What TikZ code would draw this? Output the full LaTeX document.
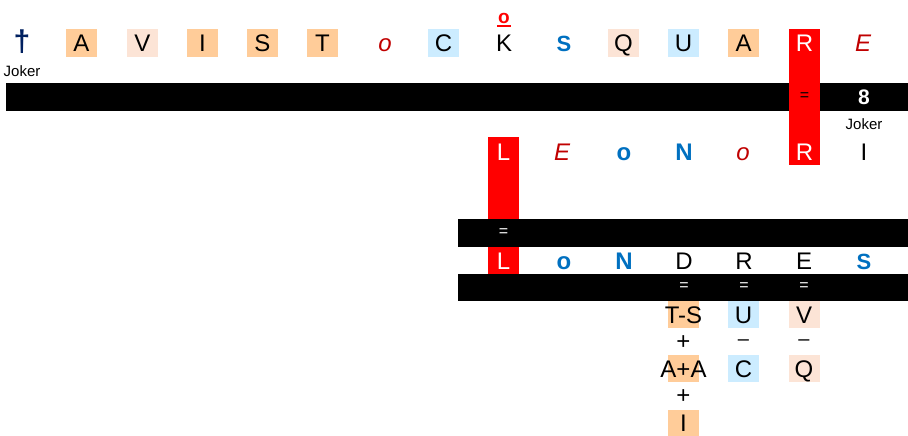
\documentclass[tikz,border=0pt]{standalone}
\usepackage{fontspec}
\setmainfont{Liberation Sans}
\definecolor{peach}{HTML}{FFCC99}
\definecolor{pinkish}{HTML}{FCE4D6}
\definecolor{skyish}{HTML}{CCECFF}
\definecolor{darkred}{HTML}{C00000}
\definecolor{blueletter}{HTML}{0070C0}
\definecolor{navyish}{HTML}{002060}
\begin{document}
\begin{tikzpicture}[x=1pt,y=-1pt,
  letter/.style={inner sep=0pt, minimum width=31pt, minimum height=27.5pt,
    text height=17pt, text depth=0pt, font=\fontsize{24}{24}\selectfont},
  bluebold/.style={letter, text=blueletter, font=\fontsize{24}{24}\selectfont\bfseries},
  bluebigS/.style={letter, text=blueletter, font=\fontsize{22}{22}\selectfont\bfseries},
  reditalic/.style={letter, text=darkred, font=\fontsize{24}{24}\selectfont\itshape},
  onred/.style={letter, text=white},
  smalltext/.style={inner sep=1pt, font=\fontsize{15}{15}\selectfont},
  eqwhite/.style={inner sep=0pt, text=white, font=\fontsize{16}{16}\selectfont},
  eqblack/.style={inner sep=0pt, text=black, font=\fontsize{16}{16}\selectfont},
  sign/.style={inner sep=0pt, font=\fontsize{24}{24}\selectfont}
]
\useasboundingbox (0,0) rectangle (908,436);
% bars
\fill[black] (6,83) rectangle (908,111);
\fill[black] (458,219) rectangle (908,247);
\fill[black] (458,274) rectangle (908,301);
% red columns
\fill[red] (789,29) rectangle (820,165);
\fill[red] (488,137) rectangle (519,219);
\fill[red] (488,247) rectangle (519,274);

% top row
\node[letter, text=navyish, font=\fontsize{30}{30}\selectfont\bfseries] (cross) at (22,43) {†};
\node[smalltext] (joker1) at (22,71) {Joker};
\node[letter, fill=peach] (a1) at (81.5,43) {A};
\node[letter, fill=pinkish] (v1) at (142.5,43) {V};
\node[letter, fill=peach] (i1) at (202.5,43) {I};
\node[letter, fill=peach] (s1) at (262.5,43) {S};
\node[letter, fill=peach] (t1) at (322.5,43) {T};
\node[reditalic] (o1) at (385,43) {o};
\node[letter, fill=skyish] (c1) at (443.5,43) {C};
\node[letter] (k1) at (504,43) {K};
\node[inner sep=0pt, text=red, font=\fontsize{19}{19}\selectfont\bfseries] (ok) at (504,18) {o};
\draw[red, line width=2pt] (497,26) -- (511,26);
\node[bluebigS] (s2) at (564,43) {S};
\node[letter, fill=pinkish] (q1) at (623.5,43) {Q};
\node[letter, fill=skyish] (u1) at (683.5,43) {U};
\node[letter, fill=peach] (a2) at (743.5,43) {A};
\node[onred] (r1) at (804.5,43) {R};
\node[reditalic] (e1) at (863,43) {E};

% bar 1 content
\node[eqblack] (eq1) at (804.5,97) {=};
\node[inner sep=0pt, text=white, font=\fontsize{21}{21}\selectfont\bfseries] (eight) at (864,97) {8};
\node[smalltext, fill=white] (joker2) at (864,124) {Joker};

% second row
\node[onred] (l1) at (503.5,152) {L};
\node[reditalic] (e2) at (562,152) {E};
\node[bluebold] (o2) at (624,152) {o};
\node[bluebold] (n1) at (684,152) {N};
\node[reditalic] (o3) at (743,152) {o};
\node[onred] (r2) at (804.5,152) {R};
\node[letter] (i2) at (864,152) {I};

% bar 2 content
\node[eqwhite] (eq2) at (503.5,233) {=};

% third row
\node[onred] (l2) at (503.5,260.5) {L};
\node[bluebold] (o4) at (564,260.5) {o};
\node[bluebold] (n2) at (624,260.5) {N};
\node[letter] (d1) at (684,260.5) {D};
\node[letter] (r3) at (744,260.5) {R};
\node[letter] (e3) at (804,260.5) {E};
\node[bluebigS] (s3) at (864,260.5) {S};

% bar 3 content
\node[eqwhite] (eq3) at (684,287) {=};
\node[eqwhite] (eq4) at (744,287) {=};
\node[eqwhite] (eq5) at (804,287) {=};

% fourth row
\node[letter, fill=peach] (tsbox) at (683.5,314.5) {};
\node[letter, minimum width=0pt] (ts) at (683.5,314.5) {T-S};
\node[letter, fill=skyish] (u2) at (743.5,314.5) {U};
\node[letter, fill=pinkish] (v2) at (804,314.5) {V};

\node[sign] (p1) at (683.5,343) {+};
\node[sign, font=\fontsize{20}{20}\selectfont] (m1) at (743.5,343) {–};
\node[sign, font=\fontsize{20}{20}\selectfont] (m2) at (804,343) {–};

% fifth row
\node[letter, fill=peach] (aabox) at (683.5,368.5) {};
\node[letter, minimum width=0pt] (aa) at (683.5,368.5) {A+A};
\node[letter, fill=skyish] (c2) at (743.5,368.5) {C};
\node[letter, fill=pinkish] (q2) at (804,368.5) {Q};

\node[sign] (p2) at (683.5,397) {+};
\node[letter, fill=peach, minimum height=26pt] (i3) at (683.5,423) {I};
\end{tikzpicture}
\end{document}
